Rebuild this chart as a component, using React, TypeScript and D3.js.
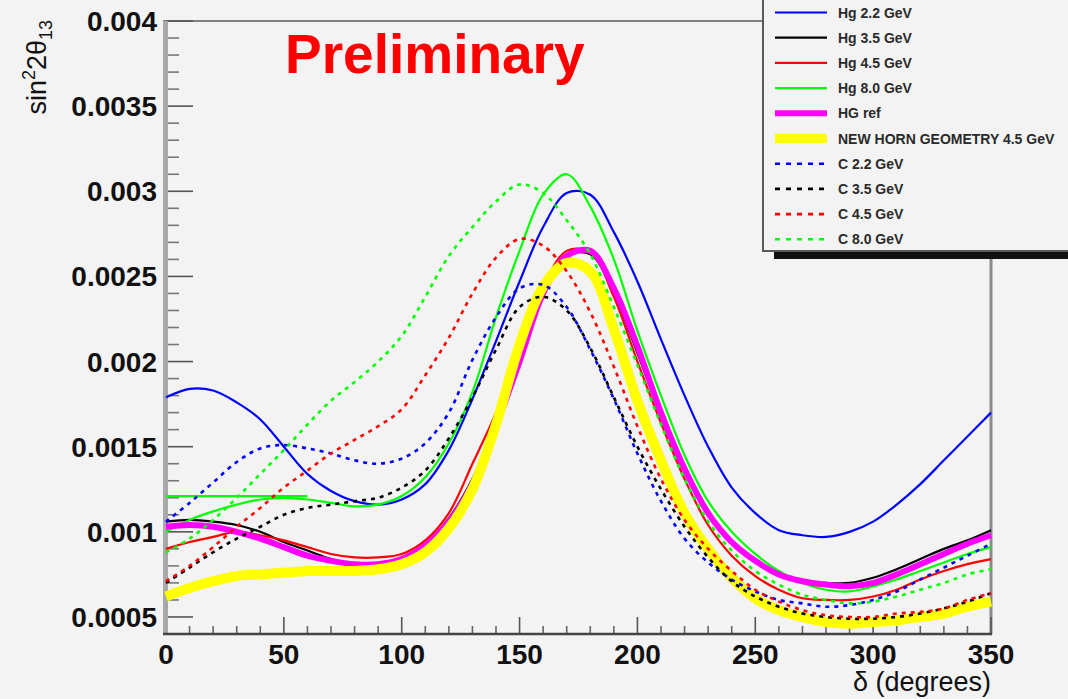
import React from 'react'
import * as d3 from 'd3'

// delta (degrees) grid shared by every curve
const delta = [0, 10, 20, 30, 40, 50, 60, 70, 80, 90, 100, 110, 120, 130, 140, 150, 160, 170,
  180, 190, 200, 210, 220, 230, 240, 250, 260, 270, 280, 290, 300, 310, 320, 330, 340, 350]

// sin^2 2theta13 values
const hg22 = [0.00179, 0.00184, 0.00183, 0.00176, 0.00166, 0.00150, 0.00134, 0.00124, 0.00118, 0.00116,
  0.00119, 0.00128, 0.00148, 0.00178, 0.00212, 0.00247, 0.00279, 0.00299, 0.00298, 0.00276,
  0.00247, 0.00213, 0.00180, 0.00150, 0.00126, 0.00111, 0.00101, 0.00098, 0.00097, 0.00100,
  0.00106, 0.00116, 0.00128, 0.00142, 0.00156, 0.00170]
const hg35 = [0.00106, 0.00107, 0.00106, 0.00104, 0.00100, 0.00094, 0.00089, 0.00084, 0.00081, 0.00081,
  0.00085, 0.00093, 0.00108, 0.00131, 0.00164, 0.00203, 0.00241, 0.00262, 0.00263, 0.00240,
  0.00205, 0.00168, 0.00135, 0.00110, 0.00093, 0.00082, 0.00075, 0.00071, 0.00070, 0.00070,
  0.00073, 0.00078, 0.00084, 0.00090, 0.00095, 0.00101]
const hg45 = [0.00090, 0.00094, 0.00097, 0.00100, 0.00098, 0.00095, 0.00091, 0.00087, 0.00085, 0.00085,
  0.00087, 0.00095, 0.00111, 0.00140, 0.00170, 0.00208, 0.00244, 0.00265, 0.00264, 0.00238,
  0.00200, 0.00164, 0.00131, 0.00104, 0.00086, 0.00074, 0.00066, 0.00061, 0.00060, 0.00060,
  0.00062, 0.00066, 0.00072, 0.00077, 0.00081, 0.00084]
const hg80 = [0.00100, 0.00107, 0.00112, 0.00116, 0.00119, 0.00120, 0.00119, 0.00117, 0.00115, 0.00116,
  0.00121, 0.00132, 0.00152, 0.00182, 0.00226, 0.00265, 0.00298, 0.00310, 0.00291, 0.00260,
  0.00218, 0.00180, 0.00145, 0.00118, 0.00100, 0.00087, 0.00077, 0.00070, 0.00066, 0.00065,
  0.00068, 0.00072, 0.00077, 0.00082, 0.00087, 0.00091]
// short flat green piece at the left edge
const hg80StubX = [0, 60]
const hg80StubY = [0.00121, 0.00121]
const hgRef = [0.00103, 0.00104, 0.00103, 0.00100, 0.00096, 0.00091, 0.00086, 0.00083, 0.00081, 0.00081,
  0.00084, 0.00092, 0.00106, 0.00128, 0.00162, 0.00200, 0.00240, 0.00262, 0.00265, 0.00243,
  0.00209, 0.00170, 0.00137, 0.00111, 0.00094, 0.00083, 0.00075, 0.00071, 0.00069, 0.00068,
  0.00070, 0.00075, 0.00081, 0.00087, 0.00093, 0.00098]
const newHorn = [0.00062, 0.00067, 0.00071, 0.00074, 0.00075, 0.00076, 0.00077, 0.00077, 0.00077, 0.00078,
  0.00081, 0.00088, 0.00102, 0.00125, 0.00163, 0.00210, 0.00244, 0.00258, 0.00253, 0.00219,
  0.00177, 0.00142, 0.00111, 0.00090, 0.00073, 0.00061, 0.00054, 0.00050, 0.00047, 0.00046,
  0.00047, 0.00048, 0.00050, 0.00052, 0.00056, 0.00059]
const c22 = [0.00106, 0.00117, 0.00129, 0.00141, 0.00149, 0.00151, 0.00149, 0.00146, 0.00142, 0.00140,
  0.00143, 0.00152, 0.00170, 0.00201, 0.00226, 0.00243, 0.00245, 0.00232, 0.00207, 0.00178,
  0.00146, 0.00118, 0.00096, 0.00082, 0.00072, 0.00065, 0.00060, 0.00058, 0.00056, 0.00057,
  0.00060, 0.00065, 0.00072, 0.00079, 0.00086, 0.00093]
const c35 = [0.00070, 0.00079, 0.00088, 0.00096, 0.00103, 0.00110, 0.00114, 0.00116, 0.00118, 0.00120,
  0.00126, 0.00136, 0.00155, 0.00179, 0.00207, 0.00232, 0.00238, 0.00230, 0.00208, 0.00179,
  0.00150, 0.00125, 0.00103, 0.00085, 0.00071, 0.00062, 0.00056, 0.00052, 0.00050, 0.00049,
  0.00049, 0.00050, 0.00052, 0.00055, 0.00059, 0.00064]
const c45 = [0.00071, 0.00080, 0.00091, 0.00103, 0.00114, 0.00126, 0.00136, 0.00146, 0.00154, 0.00162,
  0.00172, 0.00192, 0.00214, 0.00240, 0.00261, 0.00272, 0.00268, 0.00253, 0.00229, 0.00197,
  0.00162, 0.00131, 0.00107, 0.00090, 0.00077, 0.00066, 0.00059, 0.00054, 0.00051, 0.00050,
  0.00050, 0.00052, 0.00053, 0.00055, 0.00060, 0.00064]
const c80 = [0.00088, 0.00096, 0.00107, 0.00120, 0.00134, 0.00148, 0.00163, 0.00177, 0.00188, 0.00200,
  0.00215, 0.00238, 0.00262, 0.00279, 0.00294, 0.00304, 0.00299, 0.00283, 0.00263, 0.00232,
  0.00198, 0.00163, 0.00131, 0.00106, 0.00089, 0.00077, 0.00069, 0.00063, 0.00060, 0.00058,
  0.00059, 0.00062, 0.00066, 0.00070, 0.00075, 0.00078]

const yTicks = [0.0005, 0.001, 0.0015, 0.002, 0.0025, 0.003, 0.0035, 0.004]
const yTickLabels = ['0.0005', '0.001', '0.0015', '0.002', '0.0025', '0.003', '0.0035', '0.004']
const xTicks = [0, 50, 100, 150, 200, 250, 300, 350]
const xTickLabels = ['0', '50', '100', '150', '200', '250', '300', '350']

const legendLabels = ['Hg 2.2 GeV', 'Hg 3.5 GeV', 'Hg 4.5 GeV', 'Hg 8.0 GeV', 'HG ref',
  'NEW HORN GEOMETRY 4.5 GeV', 'C 2.2 GeV', 'C 3.5 GeV', 'C 4.5 GeV', 'C 8.0 GeV']

const series = [
  { values: hg22, color: '#0000ff', width: 2.2, dash: null },
  { values: hg35, color: '#000000', width: 2.2, dash: null },
  { values: hg45, color: '#ff0000', width: 2.2, dash: null },
  { values: hg80, color: '#00ff00', width: 2.2, dash: null },
  { values: hgRef, color: '#ff00ff', width: 6, dash: null },
  { values: newHorn, color: '#ffff00', width: 10, dash: null },
  { values: c22, color: '#0000ff', width: 2.6, dash: '4,5' },
  { values: c35, color: '#000000', width: 2.6, dash: '4,5' },
  { values: c45, color: '#ff0000', width: 2.6, dash: '4,5' },
  { values: c80, color: '#00ff00', width: 2.6, dash: '4,5' },
]

const W = 1068
const H = 699
const bg = '#f3f3f3'
const font = '"Liberation Sans", Arial, Helvetica, sans-serif'

export default function App() {
  const x = d3.scaleLinear().domain([0, 350]).range([166, 991])
  const y = d3.scaleLinear().domain([0.0004, 0.004]).range([634, 21])

  const line = d3.line<number>()
    .x((_, i) => x(delta[i]))
    .y(d => y(d))
    .curve(d3.curveCatmullRom)

  const stub = d3.line<number>()
    .x((_, i) => x(hg80StubX[i]))
    .y(d => y(d))

  const yMinor = d3.range(5, 41).filter(k => k % 5 !== 0).map(k => k / 10000)
  const xMinor = d3.range(0, 351, 10).filter(v => v % 50 !== 0)

  const [plotLeft, plotRight] = x.range()
  const [plotBottom, plotTop] = y.range()

  const rowY = (i: number) => 12.5 + i * 25.2

  return (
    <div style={{ position: 'absolute', left: 0, top: 0 }}>
      <svg width={W} height={H} style={{ display: 'block', background: bg }}>
        <rect x={0} y={0} width={W} height={H} fill={bg} />

        {/* frame */}
        <line x1={plotLeft - 3} x2={763} y1={plotTop} y2={plotTop} stroke="#808080" strokeWidth={2} />
        <line x1={plotRight} x2={plotRight} y1={plotTop} y2={plotBottom} stroke="#8a8a8a" strokeWidth={3} />

        {/* y ticks */}
        {yMinor.map(v => (
          <line key={'ym' + v} x1={plotLeft} x2={plotLeft + 13} y1={y(v)} y2={y(v)} stroke="#777" strokeWidth={1.6} />
        ))}
        {yTicks.map(v => (
          <line key={'yM' + v} x1={plotLeft} x2={plotLeft + 27} y1={y(v)} y2={y(v)} stroke="#555" strokeWidth={1.6} />
        ))}
        {/* x ticks */}
        {xMinor.map(v => (
          <line key={'xm' + v} x1={x(v)} x2={x(v)} y1={plotBottom} y2={plotBottom - 8} stroke="#666" strokeWidth={1.6} />
        ))}
        {xTicks.map(v => (
          <line key={'xM' + v} x1={x(v)} x2={x(v)} y1={plotBottom} y2={plotBottom - 17} stroke="#555" strokeWidth={1.6} />
        ))}

        {/* axes */}
        <line x1={plotLeft - 0.5} x2={plotLeft - 0.5} y1={plotTop} y2={plotBottom + 1} stroke="#a8a8a8" strokeWidth={5} />
        <line x1={plotLeft - 3} x2={plotRight + 1} y1={plotBottom} y2={plotBottom} stroke="#444" strokeWidth={2.5} />

        {/* curves */}
        {series.map((s, i) => (
          <React.Fragment key={'s' + i}>
            <path d={line(s.values) || ''} fill="none" stroke={s.color} strokeWidth={s.width}
              strokeDasharray={s.dash || undefined} strokeLinejoin="round" />
            {i === 3 && (
              <path d={stub(hg80StubY) || ''} fill="none" stroke={s.color} strokeWidth={s.width} />
            )}
          </React.Fragment>
        ))}

        {/* tick labels */}
        {yTicks.map((v, i) => (
          <text key={'yl' + v} x={157} y={y(v)} dy="0.36em" textAnchor="end"
            fontFamily={font} fontWeight="bold" fontSize={28} fill="#111">{yTickLabels[i]}</text>
        ))}
        {xTicks.map((v, i) => (
          <text key={'xl' + v} x={x(v)} y={664} textAnchor="middle"
            fontFamily={font} fontWeight="bold" fontSize={28} fill="#111">{xTickLabels[i]}</text>
        ))}

        {/* axis titles */}
        <text x={plotRight} y={691} textAnchor="end" fontFamily={font} fontSize={27} fill="#111">δ (degrees)</text>
        <text transform="translate(46,20) rotate(-90)" textAnchor="end" fontFamily={font} fontSize={27} fill="#111">
          sin<tspan fontSize={18} dy={-11}>2</tspan><tspan dy={11}>2θ</tspan><tspan fontSize={18} dy={6}>13</tspan>
        </text>

        <text x={285} y={73} fontFamily={font} fontWeight="bold" fontSize={55} fill="#ff0000">Preliminary</text>

        {/* legend */}
        <rect x={774} y={250} width={320} height={9} fill="#111" />
        <rect x={763} y={-20} width={340} height={271} fill={bg} stroke="#5a5a5a" strokeWidth={2} />
        {series.map((s, i) => (
          <g key={'lg' + i}>
            <line x1={775} x2={827} y1={rowY(i)} y2={rowY(i)} stroke={s.color}
              strokeWidth={Math.min(s.width, 9)} strokeDasharray={s.dash ? '5,6' : undefined} />
            <text x={838} y={rowY(i)} dy="0.36em" fontFamily={font} fontWeight="bold" fontSize={14} fill="#2a2a2a">
              {legendLabels[i]}
            </text>
          </g>
        ))}
      </svg>
    </div>
  )
}
